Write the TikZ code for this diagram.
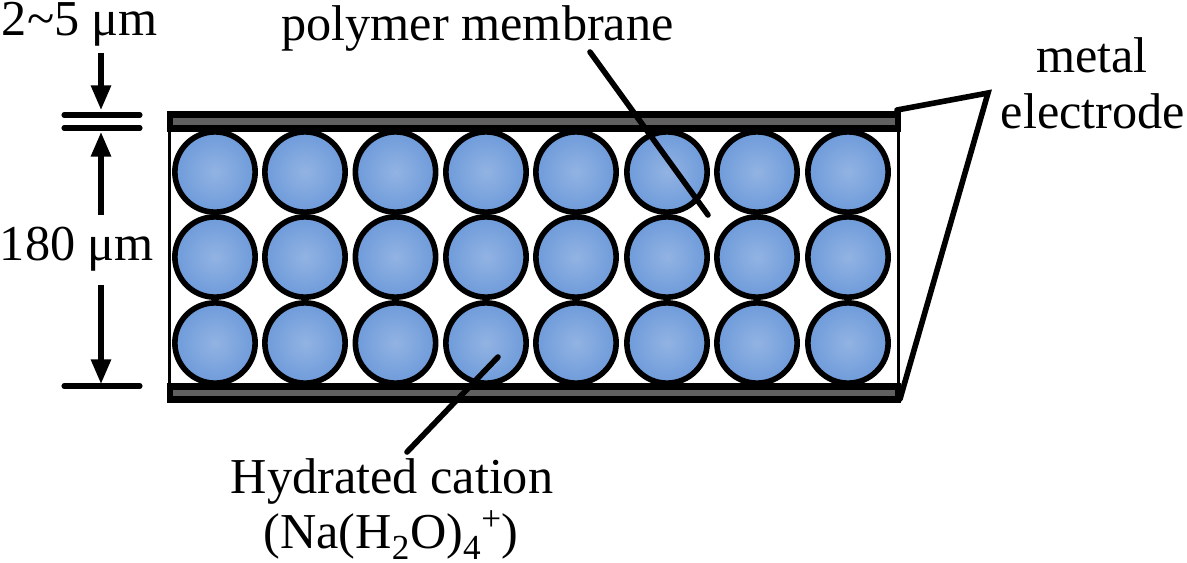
\documentclass[tikz,border=0pt]{standalone}
\usepackage{fontspec}
\setmainfont{Liberation Serif}
\usetikzlibrary{arrows.meta,positioning}
\definecolor{ioninner}{RGB}{146,179,227}
\definecolor{ionouter}{RGB}{110,155,218}
\definecolor{plategray}{RGB}{96,96,96}
\begin{document}
\begin{tikzpicture}[x=.75pt,y=-.75pt,>={Triangle[length=18.5pt,width=14.5pt]},
       ion/.style={draw,circle,line width=4.2pt,minimum size=60.2pt,inner sep=0pt,
         inner color=ioninner,outer color=ionouter},
       plate/.style={draw,line width=5.2pt,fill=plategray,minimum width=546pt,minimum height=10.2pt,inner sep=0pt},
       label/.style={font=\fontsize{37.7}{44}\selectfont,inner sep=0pt},
       leader/.style={line width=4.2pt,line cap=round},
       dimline/.style={line width=3.8pt,line cap=round},
       dimarrow/.style={->,line width=3.8pt}]
      \useasboundingbox (0,0) rectangle (1187,562);
      % side walls
      \node[plate] (top) at (534,121.5) {};
      \node[plate] (bottom) at (534,393) {};
      \draw[line width=2.6pt] ([xshift=2.2pt]top.south west) -- ([xshift=2.2pt]bottom.north west);
      \draw[line width=2.6pt] ([xshift=-2.2pt]top.south east) -- ([xshift=-2.2pt]bottom.north east);
      % cations
      \foreach \r/\y in {1/172,2/257,3/343}
        \foreach \c/\x in {1/215,2/305,3/395.5,4/486,5/576,6/667,7/757,8/848}
          \node[ion] (ion\r\c) at (\x,\y) {};
      % labels
      \node[label,anchor=base] (thin) at (80,35) {2\textasciitilde 5 μm};
      \node[label,anchor=base] (thick) at (77,260) {180 μm};
      \node[label,anchor=base] (membrane) at (477.5,40) {polymer membrane};
      \node[label,anchor=base] (metal) at (1092,72) {metal};
      \node[label,anchor=base] (electrode) at (1093,128) {electrode};
      \node[label,anchor=base] (cation) at (392,493) {Hydrated cation};
      \node[label,anchor=base] (formula) at (391,548) {(Na(H\textsubscript{2}O)\textsubscript{4}\raisebox{4pt}{\textsuperscript{+}})};
      % leader lines
      \coordinate (m1) at (590,52);
      \coordinate (m2) at (708,215);
      \coordinate (c1) at (498,357);
      \coordinate (c2) at (407,452);
      \coordinate (e1) at (897,110);
      \coordinate (e2) at (988,93);
      \coordinate (e3) at (900,399);
      \draw[leader] (m1) -- (m2);
      \draw[leader] (c1) -- (c2);
      \draw[leader,line join=miter] (e1) -- (e2) -- (e3);
      % dimensions
      \coordinate (d1l) at (64,115);
      \coordinate (d1r) at (140,115);
      \coordinate (d2l) at (64,128);
      \coordinate (d2r) at (140,128);
      \coordinate (d3l) at (64,386);
      \coordinate (d3r) at (140,386);
      \draw[dimline] (d1l) -- (d1r);
      \draw[dimline] (d2l) -- (d2r);
      \draw[dimline] (d3l) -- (d3r);
      \coordinate (a1) at (101,53);
      \coordinate (a2) at (101,110);
      \coordinate (a3) at (101,215);
      \coordinate (a4) at (101,132);
      \coordinate (a5) at (101,285);
      \coordinate (a6) at (101,384);
      \draw[dimarrow] (a1) -- (a2);
      \draw[dimarrow] (a3) -- (a4);
      \draw[dimarrow] (a5) -- (a6);
\end{tikzpicture}
\end{document}
